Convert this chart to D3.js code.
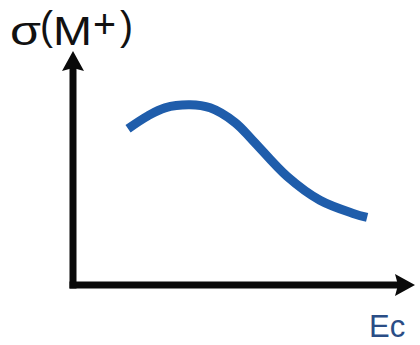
<!DOCTYPE html>
<html>
<head>
<meta charset="utf-8">
<script src="https://cdn.jsdelivr.net/npm/d3@7"></script>
<style>
  html, body { margin: 0; padding: 0; background: #fff; }
  svg { display: block; }
</style>
</head>
<body>
<svg id="chart" width="420" height="345"></svg>
<script>
// Ec values (arbitrary units, 0-100 along the axis)
const ecValues = [16.1, 21.9, 26.9, 34.2, 40.1, 47.4, 52.6, 62.6, 72.2, 81.9, 86.0];
// σ(M+) values (arbitrary units, 0-100 along the axis)
const sigmaValues = [66.8, 72.3, 75.7, 77.0, 75.7, 69.4, 61.7, 46.4, 36.2, 30.6, 28.9];
const yLabelParts = ["σ", "(", "M", "+", ")"];
const xLabel = "Ec";

const svg = d3.select("#chart");
const x = d3.scaleLinear().domain([0, 100]).range([73, 415]);
const y = d3.scaleLinear().domain([0, 100]).range([285, 51]);

// Axes
const axisColor = "#0a0a0a";
svg.append("line")
  .attr("x1", x(0)).attr("y1", y(0) + 3.5)
  .attr("x2", x(0)).attr("y2", y(100) + 14)
  .attr("stroke", axisColor).attr("stroke-width", 7);
svg.append("line")
  .attr("x1", x(0) - 3.5).attr("y1", y(0))
  .attr("x2", x(100) - 14).attr("y2", y(0))
  .attr("stroke", axisColor).attr("stroke-width", 7);

// Arrowheads
const vx = x(0), vy = y(100);
svg.append("path")
  .attr("d", `M${vx},${vy} L${vx + 11},${vy + 20} L${vx},${vy + 17} L${vx - 11},${vy + 20} Z`)
  .attr("fill", axisColor);
const hx = x(100), hy = y(0);
svg.append("path")
  .attr("d", `M${hx},${hy} L${hx - 20},${hy - 11} L${hx - 17},${hy} L${hx - 20},${hy + 11} Z`)
  .attr("fill", axisColor);

// Curve
const data = ecValues.map((e, i) => ({ e, s: sigmaValues[i] }));
const line = d3.line().x(d => x(d.e)).y(d => y(d.s)).curve(d3.curveCatmullRom.alpha(0.5));
svg.append("path")
  .datum(data)
  .attr("d", line)
  .attr("fill", "none")
  .attr("stroke", "#1f5dab")
  .attr("stroke-width", 9)
  .attr("stroke-linecap", "butt");

// Y label: σ(M+)
const label = svg.append("g")
  .attr("font-family", "Liberation Sans, Arial, sans-serif")
  .attr("font-size", 40)
  .attr("fill", "#111");
const partX = [10, 40, 53, 93, 120];
const partY = [45, 40, 45, 38, 40];
const partLen = [31, 13, 39, 23, 13];
yLabelParts.forEach((p, i) => {
  label.append("text")
    .attr("x", partX[i]).attr("y", partY[i])
    .attr("textLength", partLen[i])
    .attr("lengthAdjust", "spacingAndGlyphs")
    .text(p);
});

svg.append("text")
  .attr("x", 369).attr("y", 337)
  .attr("font-family", "Liberation Sans, Arial, sans-serif")
  .attr("font-size", 31)
  .attr("fill", "#2a4d86")
  .text(xLabel);
</script>
</body>
</html>
